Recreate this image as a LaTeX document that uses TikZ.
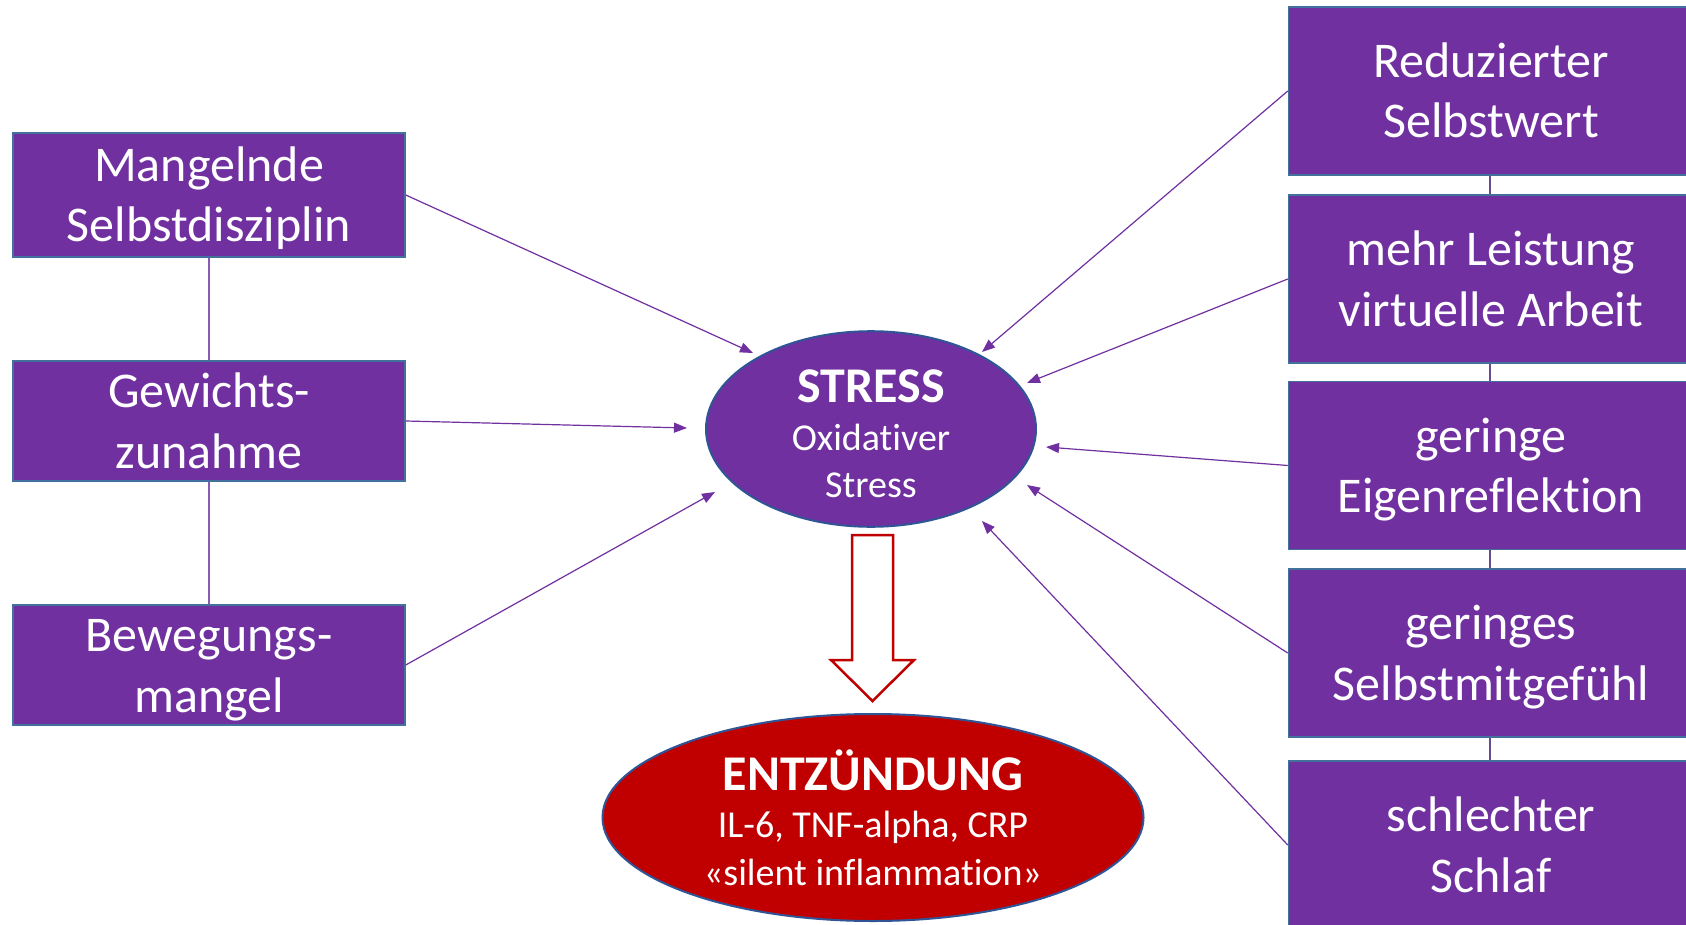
\documentclass[tikz,border=0pt]{standalone}
\usepackage{fontspec}
\setmainfont{Carlito}[Ligatures=NoCommon]
\usetikzlibrary{arrows.meta,shapes.geometric}
\definecolor{vio}{HTML}{7030A0}
\definecolor{bord}{HTML}{41719C}
\definecolor{eborder}{HTML}{2F5597}
\definecolor{dred}{HTML}{C00000}
\definecolor{rlinkc}{HTML}{6A4A8E}
\newcommand{\bxs}{\rule[-12pt]{0pt}{57.5pt}}
\begin{document}
\begin{tikzpicture}[x=1pt,y=-1pt,
  box/.style={rectangle, fill=vio, draw=bord, line width=1.5pt,
    minimum width=392pt, minimum height=121pt, inner sep=0pt,
    text=white, align=center, font=\fontsize{50}{60.5}\selectfont},
  rbox/.style={box, minimum width=405pt, minimum height=168pt},
  llink/.style={draw=vio!80, line width=1.3pt},
  rlink/.style={draw=rlinkc, line width=2pt},
  arr/.style={draw=vio, line width=1.2pt, -{Triangle[length=13pt,width=10pt]}},
  ell/.style={ellipse, inner sep=0pt, line width=2pt, draw=eborder,
    text=white, align=center, font=\fontsize{38}{47.5}\selectfont},
]
\useasboundingbox (0,0) rectangle (1686,925);
\clip (0,0) rectangle (1686,925);
\fill[white] (0,0) rectangle (1686,925);

% left boxes
\node[box, minimum height=124pt] (b1) at (209,195) {\bxs Mangelnde\\\bxs Selbstdisziplin};
\node[box, minimum height=120pt] (b2) at (209,421) {\bxs Gewichts-\\\bxs zunahme};
\node[box, minimum height=120pt] (b3) at (209,665) {\bxs Bewegungs-\\\bxs mangel};

% right boxes
\node[rbox] (r1) at (1491,91) {\bxs Reduzierter\\\bxs Selbstwert};
\node[rbox] (r2) at (1491,279) {\bxs mehr Leistung\\\bxs virtuelle Arbeit};
\node[rbox] (r3) at (1491,465.5) {\bxs geringe\\\bxs Eigenreflektion};
\node[rbox] (r4) at (1491,653) {\bxs geringes\\\bxs Selbstmitgefühl};
\node[rbox] (r5) at (1491,845) {\bxs schlechter\\\bxs Schlaf};

% vertical links
\draw[llink] (b1.south) -- (b2.north);
\draw[llink] (b2.south) -- (b3.north);
\draw[rlink] ([xshift=-1pt]r1.south) -- ([xshift=-1pt]r2.north);
\draw[rlink] ([xshift=-1pt]r2.south) -- ([xshift=-1pt]r3.north);
\draw[rlink] ([xshift=-1pt]r3.south) -- ([xshift=-1pt]r4.north);
\draw[rlink] ([xshift=-1pt]r4.south) -- ([xshift=-1pt]r5.north);

% central ellipses
\node[ell, fill=vio, minimum width=330pt, minimum height=184pt] (stress) at (871,429)
  {{\fontsize{50}{47.5}\selectfont\bfseries\rule{0pt}{43pt}STRESS}\\Oxidativer\\Stress};
\node[ell, fill=dred, minimum width=541pt, minimum height=207pt] (entz) at (873,817.5)
  {{\fontsize{50}{47.5}\selectfont\bfseries ENTZÜNDUNG}\\IL-6, TNF-alpha, CRP\\«silent inflammation»};

% block arrow
\draw[dred, line width=2.5pt, fill=white, line join=miter]
  (852,535) -- (893,535) -- (893,660) -- (914,660) -- (872.5,701)
  -- (831,660) -- (852,660) -- cycle;

% arrow tips
\coordinate (t1) at (753,353);
\coordinate (t2) at (687,428);
\coordinate (t3) at (715,492);
\coordinate (t4) at (982,352);
\coordinate (t5) at (1027,383);
\coordinate (t6) at (1046,447);
\coordinate (t7) at (1027,485);
\coordinate (t8) at (982,521);

\draw[arr] (b1.east) -- (t1);
\draw[arr] (b2.east) -- (t2);
\draw[arr] (b3.east) -- (t3);
\draw[arr] (r1.west) -- (t4);
\draw[arr] (r2.west) -- (t5);
\draw[arr] (r3.west) -- (t6);
\draw[arr] (r4.west) -- (t7);
\draw[arr] (r5.west) -- (t8);
\end{tikzpicture}
\end{document}
